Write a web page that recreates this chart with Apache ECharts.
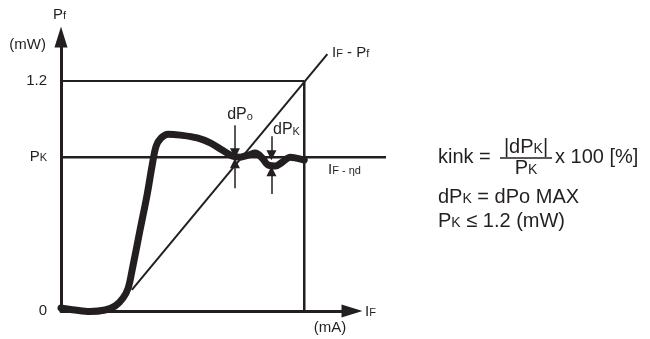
<!DOCTYPE html>
<html>
<head>
<meta charset="utf-8">
<script src="https://cdn.jsdelivr.net/npm/echarts@6/dist/echarts.min.js"></script>
<style>
html, body { margin: 0; padding: 0; background: #fff; }
#main { width: 650px; height: 339px; }
</style>
</head>
<body>
<div id="main"></div>
<script>
// IF (mA, arbitrary) vs Pf (mW) - kink curve
var curveIF = [0, 4.6, 9.5, 14.5, 17.8, 20.4, 22.1, 23.4, 26.0, 28.3, 30.0, 31.3, 32.9, 35.2, 39.2, 44.8, 49.1, 53.0, 56.3, 58.9, 61.6, 63.9, 66.2, 68.1, 70.5, 72.8, 75.4, 77.4, 80.0];
var curvePf = [0.016, 0.005, -0.003, 0.005, 0.026, 0.068, 0.12, 0.214, 0.423, 0.605, 0.762, 0.861, 0.903, 0.923, 0.918, 0.903, 0.877, 0.840, 0.809, 0.803, 0.814, 0.824, 0.798, 0.762, 0.757, 0.777, 0.803, 0.798, 0.788];

var pk = 0.803;        // kink power level
var pMax = 1.2;        // upper power limit
var ifAtMax = 80;      // IF where the IF-Pf line reaches 1.2 mW
var pkLineEnd = 107;   // IF-ηd line runs past the axis arrow
var diagIF = [23.3, 87.6];
var diagPf = [0.11, 1.341];

var yTickValues = [0, pk, pMax];
var yTickLabels = ['0', '{n|P}{s|K}', '1.2'];

// dPo / dPK arrow pairs: [tail, tip]
var dPoX = 57.2, dPoTop = [0.969, 0.823], dPoBottom = [0.641, 0.771];
var dPkX = 69.2, dPkTop = [0.912, 0.813], dPkBottom = [0.610, 0.730];

var ink = '#231f20';
var curveData = curveIF.map(function (x, i) { return [x, curvePf[i]]; });

function seg(x1, y1, x2, y2) { return [[x1, y1], [x2, y2]]; }

var myChart = echarts.init(document.getElementById('main'));
var option = {
    animation: false,
    grid: [
        { left: 61, right: 298, top: 37, bottom: 28 },
        // same scale, wider: lets the IF-ηd line run past the x arrow
        { left: 61, right: 264, top: 37, bottom: 28 }
    ],
    xAxis: [{
        type: 'value', min: 0, max: 95.7,
        axisLine: { lineStyle: { color: ink, width: 3 }, symbol: ['none', 'triangle'], symbolSize: [13, 21] },
        axisTick: { show: false }, axisLabel: { show: false }, splitLine: { show: false }
    }, {
        type: 'value', gridIndex: 1, min: 0, max: pkLineEnd, show: false
    }],
    yAxis: [{
        type: 'value', min: 0, max: 1.43,
        axisLine: { show: true, lineStyle: { color: ink, width: 3 }, symbol: ['none', 'triangle'], symbolSize: [13, 21] },
        axisTick: { show: false },
        splitLine: { show: false },
        axisLabel: {
            customValues: yTickValues,
            margin: 14,
            color: ink,
            fontSize: 15,
            fontFamily: 'Liberation Sans',
            formatter: function (v) {
                var i = yTickValues.indexOf(v);
                return i >= 0 ? yTickLabels[i] : '';
            },
            rich: {
                n: { fontSize: 15, color: ink, fontFamily: 'Liberation Sans', verticalAlign: 'bottom' },
                s: { fontSize: 11, color: ink, fontFamily: 'Liberation Sans', verticalAlign: 'bottom', padding: [0, 0, 1, 0] }
            }
        }
    }, {
        type: 'value', gridIndex: 1, min: 0, max: 1.43, show: false
    }],
    series: [
        { type: 'line', data: seg(0, pMax, ifAtMax, pMax), symbol: 'none', lineStyle: { color: ink, width: 2 } },
        { type: 'line', data: seg(ifAtMax, 0, ifAtMax, pMax), symbol: 'none', lineStyle: { color: ink, width: 2.5 } },
        {
            type: 'line', xAxisIndex: 1, yAxisIndex: 1, data: seg(0, pk, pkLineEnd, pk),
            symbol: 'none', lineStyle: { color: ink, width: 2.5 }
        },
        { type: 'line', data: seg(diagIF[0], diagPf[0], diagIF[1], diagPf[1]), symbol: 'none', clip: false, lineStyle: { color: ink, width: 2 } },
        {
            type: 'line', data: curveData, symbol: 'none', smooth: 0.35, clip: false,
            lineStyle: { color: ink, width: 7, cap: 'round', join: 'round' }
        },
        {
            type: 'lines', coordinateSystem: 'cartesian2d',
            symbol: ['none', 'triangle'], symbolSize: [7, 10],
            lineStyle: { color: ink, width: 1.5, opacity: 1 },
            data: [
                { coords: seg(dPoX, dPoTop[0], dPoX, dPoTop[1]) },
                { coords: seg(dPoX, dPoBottom[0], dPoX, dPoBottom[1]) },
                { coords: seg(dPkX, dPkTop[0], dPkX, dPkTop[1]) },
                { coords: seg(dPkX, dPkBottom[0], dPkX, dPkBottom[1]) }
            ]
        }
    ],
    graphic: []
};

function txt(x, y, text, size, sub, align) {
    return {
        type: 'text', x: x, y: y, silent: true,
        style: {
            text: text, align: align || 'left', verticalAlign: 'middle',
            fill: ink,
            rich: {
                n: { fontSize: size, fill: ink, fontFamily: 'Liberation Sans', verticalAlign: 'bottom' },
                s: { fontSize: sub, fill: ink, fontFamily: 'Liberation Sans', verticalAlign: 'bottom', padding: [0, 0, 1, 0] }
            }
        }
    };
}

option.graphic = [
    txt(53, 15, '{n|P}{s|f}', 15, 11),
    txt(46, 45, '{n|(mW)}', 15, 11, 'right'),
    txt(365, 312, '{n|I}{s|F}', 15, 11),
    txt(330, 328, '{n|(mA)}', 15, 11, 'center'),
    txt(332, 53, '{n|I}{s|F}{n| - P}{s|f}', 15, 11),
    txt(328, 170, '{n|I}{s|F - ηd}', 15, 11),
    txt(240, 115, '{n|dP}{s|o}', 16, 11, 'center'),
    txt(273, 130, '{n|dP}{s|K}', 16, 11),
    txt(438, 157, '{n|kink =}', 20, 14),
    txt(526, 147, '{n||dP}{s|K}{n||}', 20, 14, 'center'),
    txt(526, 168, '{n|P}{s|K}', 20, 14, 'center'),
    txt(555, 157, '{n|x 100 [%]}', 20, 14),
    txt(438, 197, '{n|dP}{s|K}{n| = dPo MAX}', 20, 14),
    txt(438, 221, '{n|P}{s|K}{n| ≤ 1.2 (mW)}', 20, 14),
    {
        type: 'line', silent: true,
        shape: { x1: 500, y1: 158, x2: 552, y2: 158 },
        style: { stroke: ink, lineWidth: 1.5 }
    }
];

myChart.setOption(option);
</script>
</body>
</html>
